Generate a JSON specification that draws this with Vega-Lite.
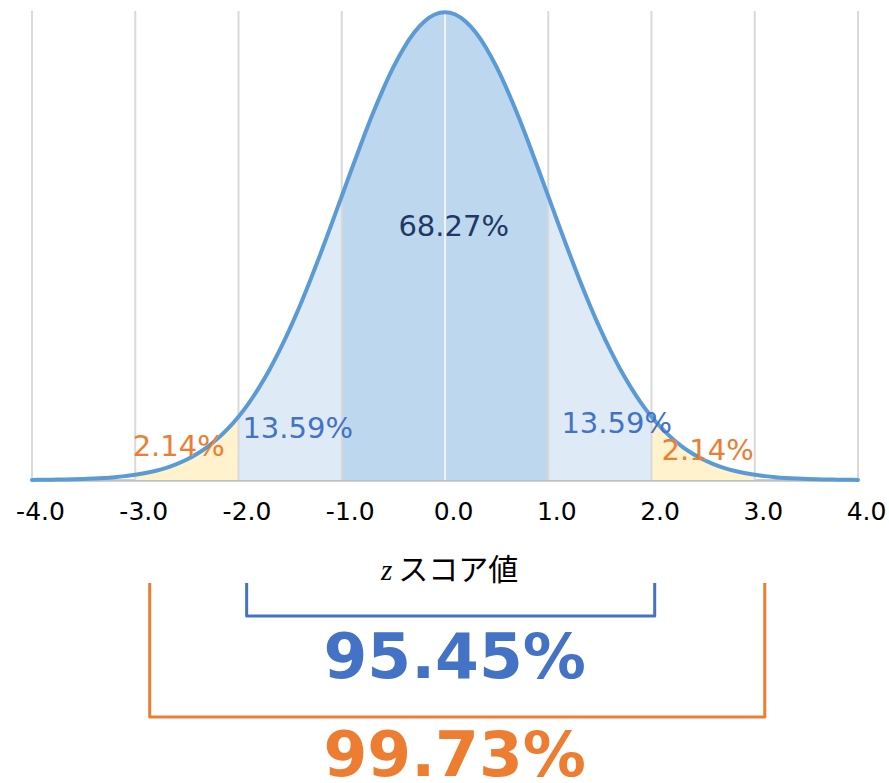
{
  "$schema": "https://vega.github.io/schema/vega-lite/v6.json",
  "autosize": {"type": "none"},
  "padding": {"left": 32, "top": 11, "right": 31, "bottom": 0},
  "width": 826,
  "height": 772,
  "background": "white",
  "config": {
    "view": {"stroke": null},
    "locale": {"number": {"decimal": ".", "thousands": ",", "grouping": [3], "currency": ["$", ""], "minus": "-"}}
  },
  "datasets": {
    "curve": [
      {"x": -4.0, "y": 0.0001}, {"x": -3.9, "y": 0.0002}, {"x": -3.8, "y": 0.0003}, {"x": -3.7, "y": 0.0004},
      {"x": -3.6, "y": 0.0006}, {"x": -3.5, "y": 0.0009}, {"x": -3.4, "y": 0.0012}, {"x": -3.3, "y": 0.0017},
      {"x": -3.2, "y": 0.0024}, {"x": -3.1, "y": 0.0033}, {"x": -3.0, "y": 0.0044}, {"x": -2.9, "y": 0.0060},
      {"x": -2.8, "y": 0.0079}, {"x": -2.7, "y": 0.0104}, {"x": -2.6, "y": 0.0136}, {"x": -2.5, "y": 0.0175},
      {"x": -2.4, "y": 0.0224}, {"x": -2.3, "y": 0.0283}, {"x": -2.2, "y": 0.0355}, {"x": -2.1, "y": 0.0440},
      {"x": -2.0, "y": 0.0540}, {"x": -1.9, "y": 0.0656}, {"x": -1.8, "y": 0.0790}, {"x": -1.7, "y": 0.0940},
      {"x": -1.6, "y": 0.1109}, {"x": -1.5, "y": 0.1295}, {"x": -1.4, "y": 0.1497}, {"x": -1.3, "y": 0.1714},
      {"x": -1.2, "y": 0.1942}, {"x": -1.1, "y": 0.2179}, {"x": -1.0, "y": 0.2420}, {"x": -0.9, "y": 0.2661},
      {"x": -0.8, "y": 0.2897}, {"x": -0.7, "y": 0.3123}, {"x": -0.6, "y": 0.3332}, {"x": -0.5, "y": 0.3521},
      {"x": -0.4, "y": 0.3683}, {"x": -0.3, "y": 0.3814}, {"x": -0.2, "y": 0.3910}, {"x": -0.1, "y": 0.3970},
      {"x": 0.0, "y": 0.3989},
      {"x": 0.1, "y": 0.3970}, {"x": 0.2, "y": 0.3910}, {"x": 0.3, "y": 0.3814}, {"x": 0.4, "y": 0.3683},
      {"x": 0.5, "y": 0.3521}, {"x": 0.6, "y": 0.3332}, {"x": 0.7, "y": 0.3123}, {"x": 0.8, "y": 0.2897},
      {"x": 0.9, "y": 0.2661}, {"x": 1.0, "y": 0.2420}, {"x": 1.1, "y": 0.2179}, {"x": 1.2, "y": 0.1942},
      {"x": 1.3, "y": 0.1714}, {"x": 1.4, "y": 0.1497}, {"x": 1.5, "y": 0.1295}, {"x": 1.6, "y": 0.1109},
      {"x": 1.7, "y": 0.0940}, {"x": 1.8, "y": 0.0790}, {"x": 1.9, "y": 0.0656}, {"x": 2.0, "y": 0.0540},
      {"x": 2.1, "y": 0.0440}, {"x": 2.2, "y": 0.0355}, {"x": 2.3, "y": 0.0283}, {"x": 2.4, "y": 0.0224},
      {"x": 2.5, "y": 0.0175}, {"x": 2.6, "y": 0.0136}, {"x": 2.7, "y": 0.0104}, {"x": 2.8, "y": 0.0079},
      {"x": 2.9, "y": 0.0060}, {"x": 3.0, "y": 0.0044}, {"x": 3.1, "y": 0.0033}, {"x": 3.2, "y": 0.0024},
      {"x": 3.3, "y": 0.0017}, {"x": 3.4, "y": 0.0012}, {"x": 3.5, "y": 0.0009}, {"x": 3.6, "y": 0.0006},
      {"x": 3.7, "y": 0.0004}, {"x": 3.8, "y": 0.0003}, {"x": 3.9, "y": 0.0002}, {"x": 4.0, "y": 0.0001}
    ],
    "grid": [
      {"x": -4}, {"x": -3}, {"x": -2}, {"x": -1}, {"x": 0}, {"x": 1}, {"x": 2}, {"x": 3}, {"x": 4}
    ],
    "labels": [
      {"label": "68.27%", "x": 0.084, "y": 0.2158, "c": "navy"},
      {"label": "13.59%", "x": -1.427, "y": 0.0435, "c": "blue"},
      {"label": "13.59%", "x": 1.663, "y": 0.0478, "c": "blue"},
      {"label": "2.14%", "x": -2.579, "y": 0.0281, "c": "orange"},
      {"label": "2.14%", "x": 2.544, "y": 0.0247, "c": "orange"}
    ],
    "brackets": [
      {"c": "blue", "o": 1, "x": -1.921, "y": -0.0878},
      {"c": "blue", "o": 2, "x": -1.921, "y": -0.1160},
      {"c": "blue", "o": 3, "x": 2.031, "y": -0.1160},
      {"c": "blue", "o": 4, "x": 2.031, "y": -0.0878},
      {"c": "orange", "o": 1, "x": -2.860, "y": -0.0878},
      {"c": "orange", "o": 2, "x": -2.860, "y": -0.2021},
      {"c": "orange", "o": 3, "x": 3.097, "y": -0.2021},
      {"c": "orange", "o": 4, "x": 3.097, "y": -0.0878}
    ],
    "big": [
      {"label": "95.45%", "x": 0.094, "y": -0.1527, "c": "blue"},
      {"label": "99.73%", "x": 0.094, "y": -0.2362, "c": "orange"}
    ],
    "titleZ": [{"label": "z", "x": -0.565, "y": -0.0853}],
    "titleRest": [{"label": "スコア値", "x": 0.128, "y": -0.0853}]
  },
  "layer": [
    {
      "data": {"name": "curve"},
      "transform": [{"filter": {"field": "x", "range": [-3, -2]}}],
      "mark": {"type": "area", "color": "#FFF2CC", "interpolate": "monotone"},
      "encoding": {
        "x": {
          "field": "x", "type": "quantitative", "title": null,
          "scale": {"domain": [-4, 4], "nice": false, "zero": false},
          "axis": {
            "values": [-4, -3, -2, -1, 0, 1, 2, 3, 4],
            "format": ".1f",
            "grid": false,
            "ticks": false,
            "domainColor": "#BFBFBF",
            "domainWidth": 2.5,
            "labelFont": "DejaVu Sans",
            "labelFontSize": 25,
            "labelColor": "#000000",
            "labelPadding": 19,
            "labelOffset": 8,
            "labelFlush": false,
            "labelOverlap": false,
            "labelBound": false,
            "offset": -303,
            "title": null
          }
        },
        "y": {"field": "y", "type": "quantitative", "scale": {"domain": [-0.25842, 0.4], "nice": false, "zero": false}, "axis": null},
        "y2": {"datum": 0}
      }
    },
    {
      "data": {"name": "curve"},
      "transform": [{"filter": {"field": "x", "range": [-2, -1]}}],
      "mark": {"type": "area", "color": "#DEEBF7", "interpolate": "monotone"},
      "encoding": {
        "x": {"field": "x", "type": "quantitative", "title": null},
        "y": {"field": "y", "type": "quantitative", "axis": null},
        "y2": {"datum": 0}
      }
    },
    {
      "data": {"name": "curve"},
      "transform": [{"filter": {"field": "x", "range": [-1, 1]}}],
      "mark": {"type": "area", "color": "#BDD7EE", "interpolate": "monotone"},
      "encoding": {
        "x": {"field": "x", "type": "quantitative", "title": null},
        "y": {"field": "y", "type": "quantitative", "axis": null},
        "y2": {"datum": 0}
      }
    },
    {
      "data": {"name": "curve"},
      "transform": [{"filter": {"field": "x", "range": [1, 2]}}],
      "mark": {"type": "area", "color": "#DEEBF7", "interpolate": "monotone"},
      "encoding": {
        "x": {"field": "x", "type": "quantitative", "title": null},
        "y": {"field": "y", "type": "quantitative", "axis": null},
        "y2": {"datum": 0}
      }
    },
    {
      "data": {"name": "curve"},
      "transform": [{"filter": {"field": "x", "range": [2, 3]}}],
      "mark": {"type": "area", "color": "#FFF2CC", "interpolate": "monotone"},
      "encoding": {
        "x": {"field": "x", "type": "quantitative", "title": null},
        "y": {"field": "y", "type": "quantitative", "axis": null},
        "y2": {"datum": 0}
      }
    },
    {
      "data": {"name": "grid"},
      "mark": {"type": "rule", "strokeWidth": 2},
      "encoding": {
        "x": {"field": "x", "type": "quantitative", "title": null},
        "y": {"datum": 0, "type": "quantitative", "axis": null},
        "y2": {"datum": 0.4},
        "color": {"condition": {"test": "datum.x === 0", "value": "#EEF2F6"}, "value": "#D9D9D9"}
      }
    },
    {
      "data": {"name": "curve"},
      "mark": {"type": "line", "color": "#5B9BD5", "strokeWidth": 4, "interpolate": "monotone", "strokeCap": "round"},
      "encoding": {
        "x": {"field": "x", "type": "quantitative", "title": null},
        "y": {"field": "y", "type": "quantitative", "axis": null}
      }
    },
    {
      "data": {"name": "labels"},
      "mark": {"type": "text", "font": "DejaVu Sans", "fontSize": 29, "align": "center", "baseline": "middle"},
      "encoding": {
        "x": {"field": "x", "type": "quantitative", "title": null},
        "y": {"field": "y", "type": "quantitative", "axis": null},
        "text": {"field": "label"},
        "color": {"field": "c", "type": "nominal", "scale": {"domain": ["navy", "blue", "orange"], "range": ["#203864", "#4472C4", "#ED7D31"]}, "legend": null}
      }
    },
    {
      "data": {"name": "brackets"},
      "mark": {"type": "line", "strokeWidth": 3, "strokeJoin": "round"},
      "encoding": {
        "x": {"field": "x", "type": "quantitative", "title": null},
        "y": {"field": "y", "type": "quantitative", "axis": null},
        "order": {"field": "o", "type": "quantitative"},
        "color": {"field": "c", "type": "nominal", "legend": null}
      }
    },
    {
      "data": {"name": "big"},
      "mark": {"type": "text", "font": "DejaVu Sans", "fontWeight": "bold", "fontSize": 63, "align": "center", "baseline": "middle"},
      "encoding": {
        "x": {"field": "x", "type": "quantitative", "title": null},
        "y": {"field": "y", "type": "quantitative", "axis": null},
        "text": {"field": "label"},
        "color": {"field": "c", "type": "nominal", "legend": null}
      }
    },
    {
      "data": {"name": "titleZ"},
      "mark": {"type": "text", "font": "Liberation Serif", "fontStyle": "italic", "fontSize": 29, "align": "center", "baseline": "alphabetic", "color": "#000000"},
      "encoding": {
        "x": {"field": "x", "type": "quantitative", "title": null},
        "y": {"field": "y", "type": "quantitative", "axis": null},
        "text": {"field": "label"}
      }
    },
    {
      "data": {"name": "titleRest"},
      "mark": {"type": "text", "font": "Noto Sans CJK JP", "fontSize": 30, "align": "center", "baseline": "alphabetic", "color": "#000000"},
      "encoding": {
        "x": {"field": "x", "type": "quantitative", "title": null},
        "y": {"field": "y", "type": "quantitative", "axis": null},
        "text": {"field": "label"}
      }
    }
  ]
}
